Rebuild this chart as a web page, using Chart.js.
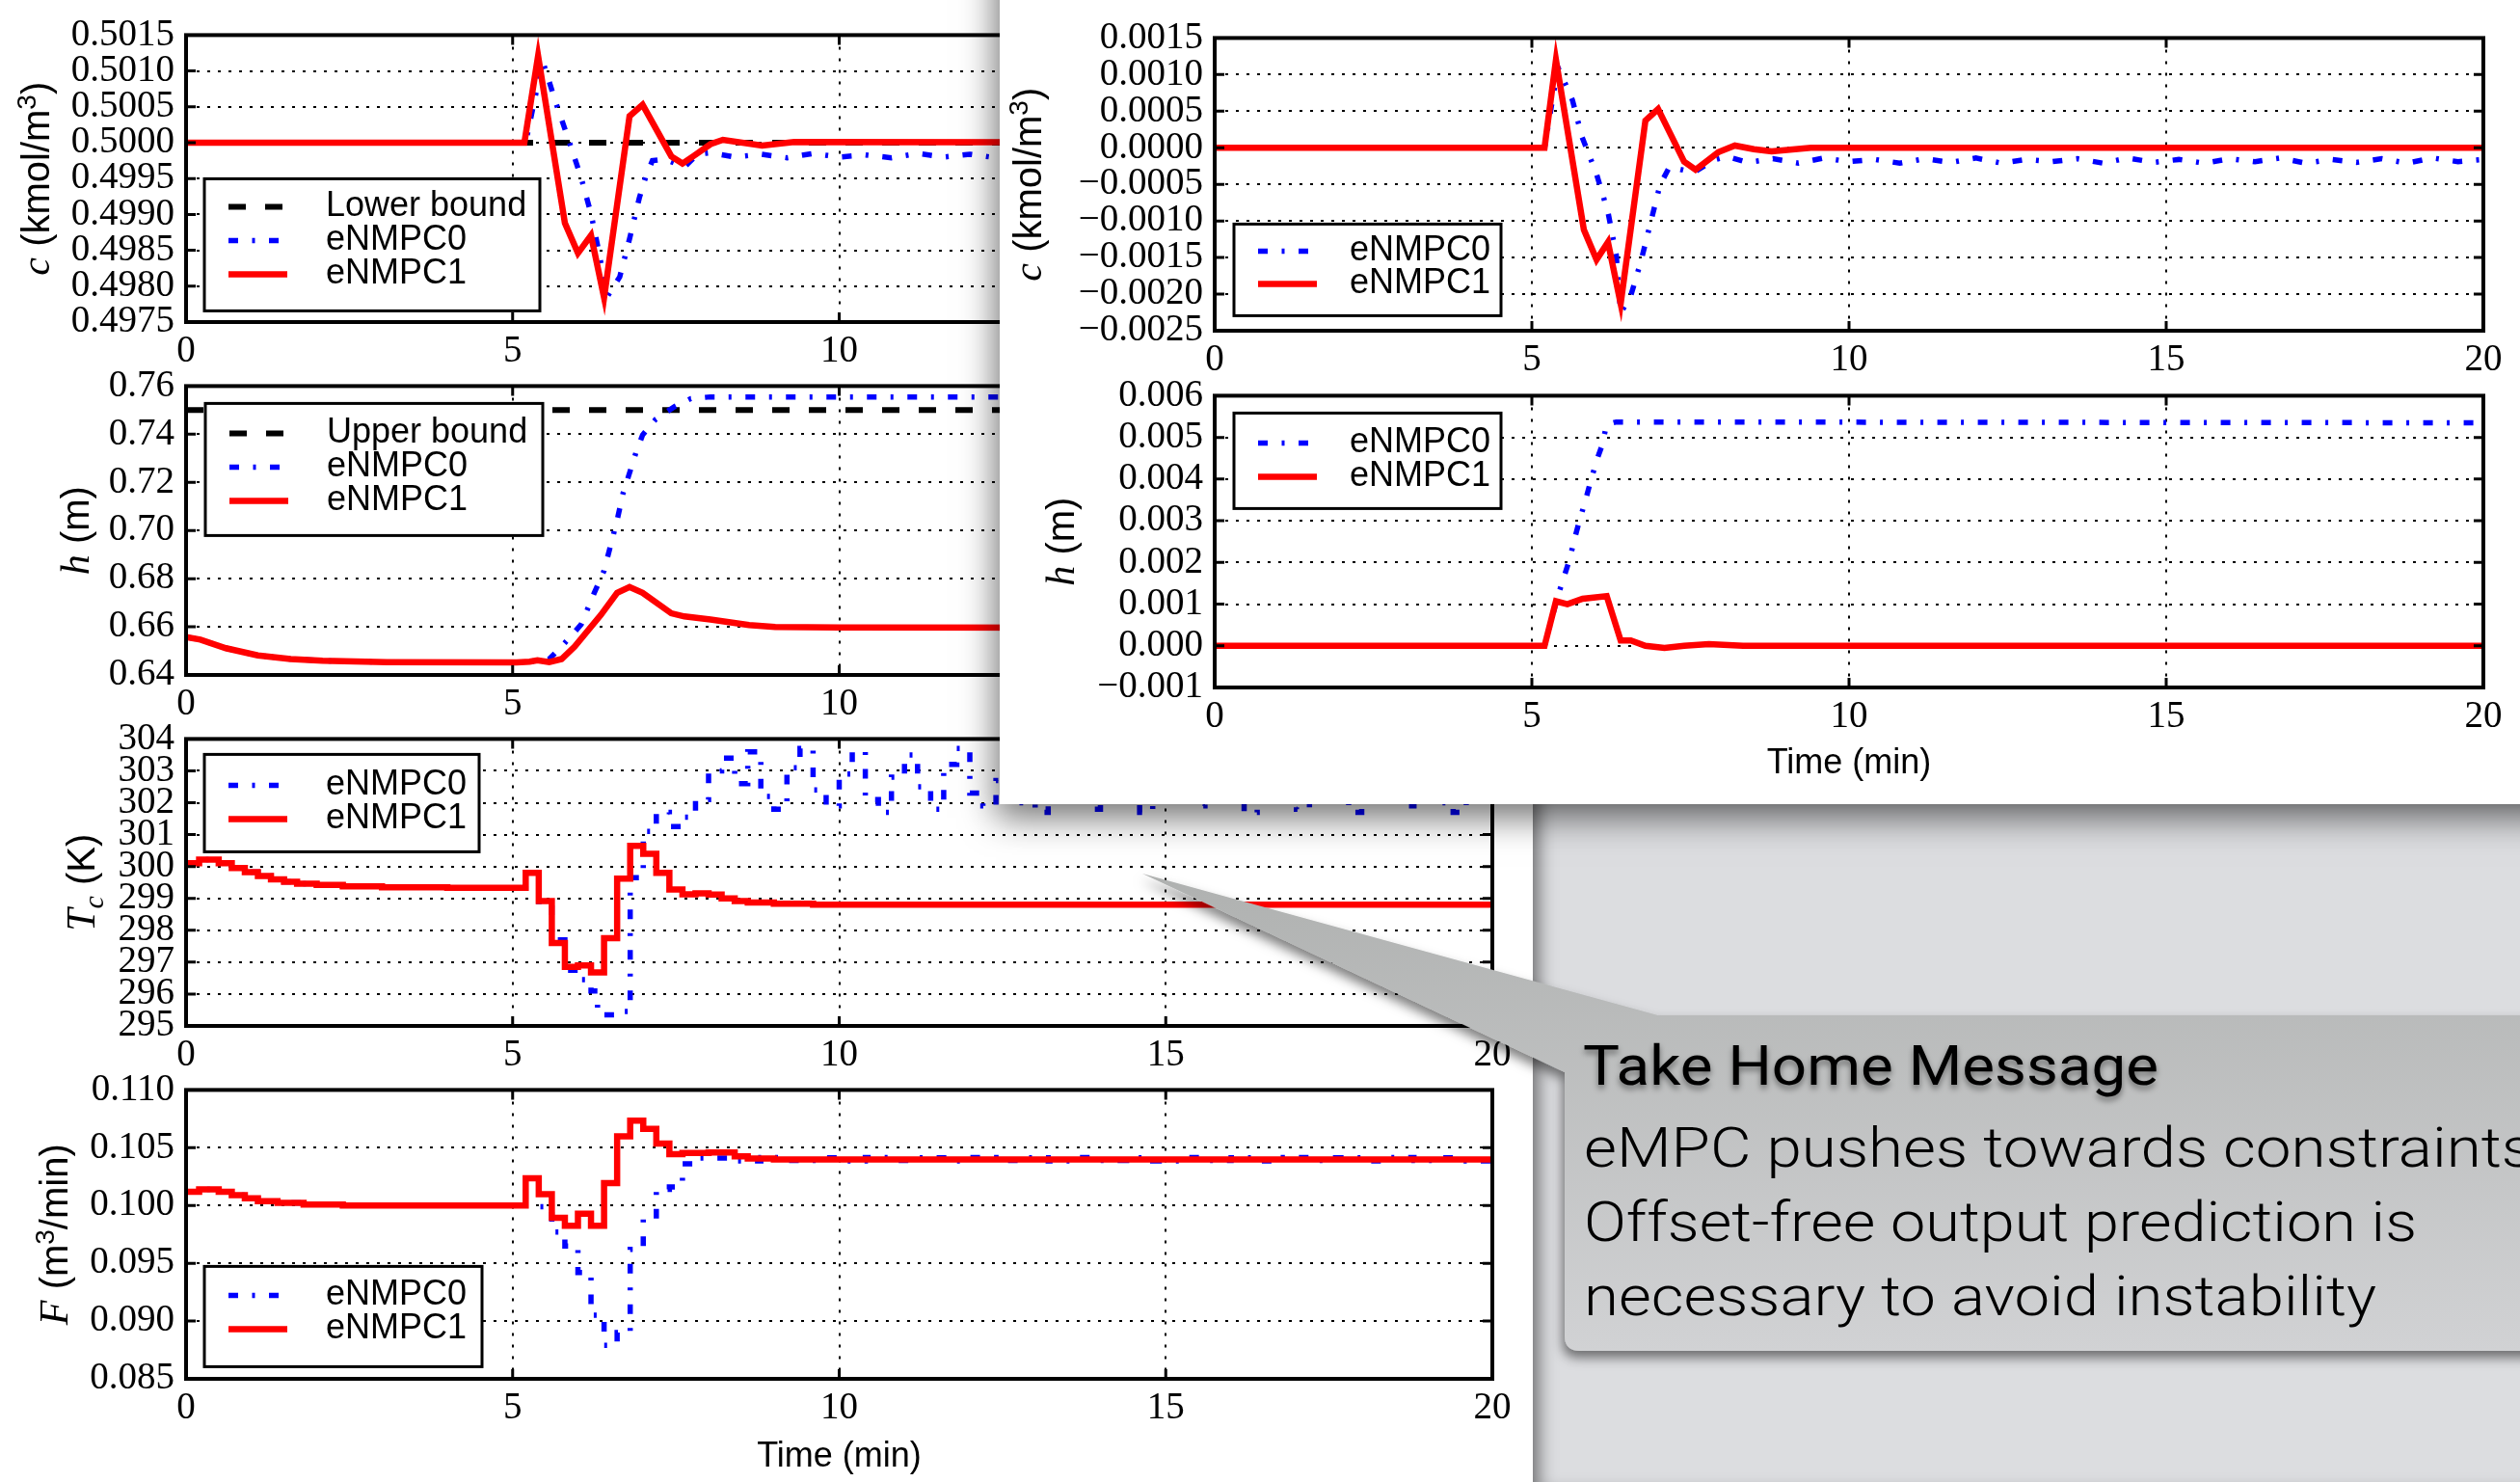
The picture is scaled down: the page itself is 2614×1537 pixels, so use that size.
<!DOCTYPE html>
<html>
<head>
<meta charset="utf-8">
<title>eNMPC comparison</title>
<script src="https://cdn.jsdelivr.net/npm/chart.js@4.4.0/dist/chart.umd.min.js"></script>
<style>
  html, body { margin: 0; padding: 0; background: #fff; overflow: hidden; }
  #page { position: relative; width: 2614px; height: 1537px; overflow: hidden; background: #fff; }
  .plot { position: absolute; }
  #grey { position: absolute; left: 1590px; top: 834px; width: 1024px; height: 703px; background: #dcdde0;
          box-shadow: inset 18px 0 18px -12px rgba(0,0,0,0.5); z-index: 2; }
  #inset { position: absolute; left: 1037px; top: -60px; width: 1640px; height: 894px; background: #fff;
           box-shadow: 0 10px 34px 4px rgba(0,0,0,0.55); z-index: 3; }
  #callout { position: absolute; left: 0; top: 0; z-index: 5; pointer-events: none; }
</style>
</head>
<body>
<div id="page">
  <div class="plot" style="left:0;top:1px;z-index:1"><canvas id="cLeft" width="1588" height="388"></canvas></div>
  <div class="plot" style="left:0;top:365px;z-index:1"><canvas id="hLeft" width="1588" height="390"></canvas></div>
  <div class="plot" style="left:0;top:731px;z-index:1"><canvas id="tcLeft" width="1588" height="388"></canvas></div>
  <div class="plot" style="left:0;top:1095px;z-index:1"><canvas id="fLeft" width="1588" height="442"></canvas></div>
  <div id="grey"></div>
  <div id="inset"></div>
  <div class="plot" style="left:1037px;top:4px;z-index:4"><canvas id="cRight" width="1569" height="394"></canvas></div>
  <div class="plot" style="left:1037px;top:375px;z-index:4"><canvas id="hRight" width="1569" height="445"></canvas></div>

  <svg id="callout" width="2614" height="1537">
    <defs>
      <linearGradient id="boxFill" x1="0" y1="905" x2="0" y2="1400" gradientUnits="userSpaceOnUse">
        <stop offset="0" stop-color="#afb1b0"/>
        <stop offset="1" stop-color="#d1d2d4"/>
      </linearGradient>
      <filter id="boxShadow" x="-10%" y="-20%" width="130%" height="150%">
        <feDropShadow dx="-2" dy="7" stdDeviation="6" flood-color="#000" flood-opacity="0.5"/>
      </filter>
      <filter id="textShadow" x="-5%" y="-30%" width="110%" height="180%">
        <feDropShadow dx="0" dy="4" stdDeviation="3" flood-color="#000" flood-opacity="0.45"/>
      </filter>
    </defs>
    <path d="M1185 906 L1720 1053 L2660 1053 L2660 1401 L1639 1401 Q1623 1401 1623 1385 L1623 1112 Z"
          fill="url(#boxFill)" filter="url(#boxShadow)"/>
    <g font-family="Roboto, 'Liberation Sans', sans-serif" fill="#000">
      <text x="1642" y="1125" font-size="57" textLength="597" lengthAdjust="spacingAndGlyphs" filter="url(#textShadow)">Take Home Message</text>
      <text x="1643" y="1210" font-size="58" font-weight="300" textLength="985" lengthAdjust="spacingAndGlyphs">eMPC pushes towards constraints</text>
      <text x="1643" y="1287" font-size="58" font-weight="300" textLength="864" lengthAdjust="spacingAndGlyphs">Offset-free output prediction is</text>
      <text x="1643" y="1364" font-size="58" font-weight="300" textLength="822" lengthAdjust="spacingAndGlyphs">necessary to avoid instability</text>
    </g>
  </svg>
</div>

<script>
// time axis (min)
const xTicks = [0, 5, 10, 15, 20];

// ---- left column: concentration c ----
const cLeftTicks = [0.4975, 0.4980, 0.4985, 0.4990, 0.4995, 0.5000, 0.5005, 0.5010, 0.5015];
const cBoundT = [0, 20];
const cBound = [0.5, 0.5];
const cLeftT0 = [0, 5.2, 5.46, 5.65, 5.85, 6.05, 6.2, 6.33, 6.44, 6.64, 6.79, 6.94, 7.04, 7.14, 7.33, 7.63, 7.83, 8.03,
  8.4, 8.8, 9.2, 9.6, 10.0, 10.4, 10.8, 11.2, 11.6, 12.0, 12.4, 12.8, 13.2, 13.6, 14.0,
  14.4, 14.8, 15.2, 15.6, 16.0, 16.4, 16.8, 17.2, 17.6, 18.0, 18.4, 18.8, 19.2, 19.6, 20.0];
const cLeft0 = [0.5000, 0.5000, 0.50114, 0.50059, 0.50006, 0.49951, 0.49901, 0.49844, 0.49784, 0.49813, 0.49866, 0.49923, 0.49953, 0.49975, 0.49977, 0.49966, 0.49984, 0.49986,
  0.49980, 0.49984, 0.49979, 0.49985, 0.49980, 0.49983, 0.49979, 0.49985, 0.49980, 0.49984, 0.49979, 0.49985, 0.49980, 0.49983, 0.49979,
  0.49985, 0.49980, 0.49984, 0.49979, 0.49985, 0.49980, 0.49983, 0.49979, 0.49985, 0.49980, 0.49984, 0.49979, 0.49985, 0.49980, 0.49983];
const cLeftT1 = [0, 5.18, 5.39, 5.8, 6.0, 6.2, 6.4, 6.79, 6.99, 7.43, 7.6, 7.78, 8.03, 8.22, 8.82, 9.31, 20];
const cLeft1 = [0.5, 0.5, 0.50121, 0.49888, 0.49846, 0.49871, 0.49784, 0.50037, 0.50053, 0.49981, 0.49971, 0.49982, 0.49998, 0.50004, 0.49996, 0.50001, 0.5];

// ---- left column: level h ----
const hLeftTicks = [0.64, 0.66, 0.68, 0.70, 0.72, 0.74, 0.76];
const hBoundT = [0, 20];
const hBound = [0.75, 0.75];
const hLeftT0 = [0, 0.22, 0.61, 1.1, 1.6, 2.09, 3.08, 5.06, 5.26, 5.38, 5.56, 5.75, 6.05, 6.25, 6.4, 6.5, 6.6, 6.69, 6.79, 6.89, 6.99, 7.19, 7.48, 7.73, 8.03, 20];
const hLeft0 = [0.6557, 0.6547, 0.6511, 0.6481, 0.6466, 0.6459, 0.6453, 0.6452, 0.6455, 0.6461, 0.6466, 0.6518, 0.6610, 0.6741, 0.6833, 0.6938, 0.7043, 0.7154, 0.7239, 0.7325, 0.7397, 0.7462, 0.7515, 0.7548, 0.7555, 0.7555];
const hLeftT1 = [0, 0.22, 0.61, 1.1, 1.6, 2.09, 3.08, 5.06, 5.26, 5.38, 5.56, 5.75, 5.95, 6.35, 6.6, 6.79, 6.99, 7.43, 7.63, 8.03, 8.62, 9.02, 10.0, 20];
const hLeft1 = [0.6557, 0.6547, 0.6511, 0.6481, 0.6466, 0.6459, 0.6453, 0.6452, 0.6455, 0.6461, 0.6453, 0.6466, 0.6518, 0.6649, 0.6741, 0.6765, 0.6741, 0.6656, 0.6643, 0.6630, 0.6607, 0.6599, 0.6597, 0.6595];

// ---- left column: coolant temperature Tc (held between samples) ----
const tcTicks = [295, 296, 297, 298, 299, 300, 301, 302, 303, 304];
const tcT0 = [0, 0.2, 0.5, 0.7, 0.9, 1.1, 1.3, 1.5, 1.7, 2.0,
  2.4, 3.0, 4.0, 5.2, 5.4, 5.6, 5.8, 6.0, 6.2, 6.3,
  6.4, 6.6, 6.8, 7.0, 7.2, 7.4, 7.6, 7.8, 8.0, 8.2,
  8.4, 8.6, 8.8, 9.0, 9.2, 9.4, 9.6, 9.8, 10.0, 10.2,
  10.4, 10.6, 10.8, 11.0, 11.2, 11.4, 11.6, 11.8, 12.0, 12.2,
  12.4, 12.6, 12.8, 13.0, 13.2, 13.4, 13.6, 13.8, 14.0, 14.2,
  14.4, 14.6, 14.8, 15.0, 15.2, 15.4, 15.6, 15.8, 16.0, 16.2,
  16.4, 16.6, 16.8, 17.0, 17.2, 17.4, 17.6, 17.8, 18.0, 18.2,
  18.4, 18.6, 18.8, 19.0, 19.2, 19.4, 19.6, 19.8, 20.0];
const tc0 = [300.10, 300.22, 300.10, 299.95, 299.82, 299.70, 299.60, 299.52, 299.46, 299.42,
  299.38, 299.35, 299.33, 299.80, 298.90, 297.70, 296.75, 296.45, 296.10, 295.55,
  295.35, 295.45, 299.65, 301.10, 301.70, 301.25, 301.55, 302.10, 303.00, 303.40,
  302.6, 303.6, 302.2, 301.8, 303.1, 303.7, 302.4, 301.9, 302.9, 303.6,
  302.1, 301.7, 302.8, 303.5, 302.5, 301.8, 303.2, 303.7, 302.3, 301.9,
  302.7, 303.6, 302.0, 301.7, 303.0, 303.5, 302.4, 301.8, 302.9, 303.7,
  302.2, 301.7, 302.6, 303.6, 302.5, 301.9, 303.1, 303.5, 302.1, 301.7,
  302.8, 303.7, 302.3, 301.8, 303.0, 303.6, 302.4, 301.7, 302.7, 303.5,
  302.2, 301.9, 303.2, 303.7, 302.0, 301.7, 302.9, 303.6, 302.3];
const tcT1 = [0, 0.2, 0.5, 0.7, 0.9, 1.1, 1.3, 1.5, 1.7, 2.0, 2.4, 3.0, 4.0, 5.2, 5.4, 5.6, 5.8,
  6.0, 6.2, 6.4, 6.6, 6.8, 7.0, 7.2, 7.4, 7.6, 7.8, 8.0, 8.2, 8.4, 8.6, 9.0, 9.6, 20];
const tc1 = [300.10, 300.22, 300.10, 299.95, 299.82, 299.70, 299.60, 299.52, 299.46, 299.42, 299.38, 299.35, 299.33, 299.80, 298.92, 297.60, 296.85,
  296.90, 296.68, 297.75, 299.62, 300.65, 300.40, 299.80, 299.28, 299.13, 299.16, 299.12, 299.00, 298.92, 298.87, 298.83, 298.80, 298.78];

// ---- left column: feed flow F (held between samples) ----
const fTicks = [0.085, 0.090, 0.095, 0.100, 0.105, 0.110];
const fT0 = [0, 0.2, 0.5, 0.7, 0.9, 1.1, 1.4, 1.8, 2.4, 5.2,
  5.4, 5.6, 5.8, 6.0, 6.2, 6.4, 6.6, 6.8, 7.0, 7.2,
  7.4, 7.6, 7.8, 8.0,
  8.4, 8.8, 9.2, 9.6, 10.0, 10.4, 10.8, 11.2, 11.6, 12.0, 12.4, 12.8, 13.2, 13.6, 14.0,
  14.4, 14.8, 15.2, 15.6, 16.0, 16.4, 16.8, 17.2, 17.6, 18.0, 18.4, 18.8, 19.2, 19.6, 20.0];
const f0 = [0.10118, 0.10140, 0.10118, 0.10090, 0.10063, 0.10038, 0.10022, 0.10008, 0.10000, 0.10235,
  0.09990, 0.09770, 0.09650, 0.09420, 0.09050, 0.08790, 0.08900, 0.09620, 0.09880, 0.10140,
  0.10160, 0.10360, 0.10410, 0.10410,
  0.10385, 0.10415, 0.10390, 0.10412, 0.10386, 0.10416, 0.10391, 0.10413, 0.10385, 0.10415, 0.10390, 0.10412, 0.10386, 0.10416, 0.10391,
  0.10413, 0.10385, 0.10415, 0.10390, 0.10412, 0.10386, 0.10416, 0.10391, 0.10413, 0.10385, 0.10415, 0.10390, 0.10412, 0.10386, 0.10400];
const fT1 = [0, 0.2, 0.5, 0.7, 0.9, 1.1, 1.4, 1.8, 2.4, 5.2, 5.4, 5.6, 5.8, 6.0, 6.2, 6.4, 6.6, 6.8, 7.0, 7.2, 7.4, 7.6, 8.0, 8.4, 8.6, 9.0, 20];
const f1 = [0.10118, 0.10140, 0.10118, 0.10090, 0.10063, 0.10038, 0.10022, 0.10008, 0.10000, 0.10235, 0.10098, 0.09893, 0.09825, 0.09929,
  0.09825, 0.10194, 0.10598, 0.10735, 0.10664, 0.10536, 0.10445, 0.10454, 0.10459, 0.10426, 0.10407, 0.10399, 0.10395];

// ---- inset: c offset ----
const cRightTicks = [-0.0025, -0.0020, -0.0015, -0.0010, -0.0005, 0.0000, 0.0005, 0.0010, 0.0015];
const cRightT0 = [0, 5.2, 5.41, 5.49, 5.64, 5.79, 6.02, 6.2, 6.33, 6.4, 6.56, 6.72, 6.87, 7.02, 7.17, 7.55, 7.86, 8.08,
  8.4, 8.8, 9.2, 9.6, 10.0, 10.4, 10.8, 11.2, 11.6, 12.0, 12.4, 12.8, 13.2, 13.6, 14.0,
  14.4, 14.8, 15.2, 15.6, 16.0, 16.4, 16.8, 17.2, 17.6, 18.0, 18.4, 18.8, 19.2, 19.6, 20.0];
const cRight0 = [0, 0, 0.00110, 0.00095, 0.00065, 0.00015, -0.00036, -0.00088, -0.00146, -0.00226, -0.00202, -0.00155, -0.00103, -0.00051, -0.00026, -0.00034, -0.00017, -0.00012,
  -0.00020, -0.00015, -0.00021, -0.00014, -0.00019, -0.00016, -0.00021, -0.00015, -0.00020, -0.00014, -0.00021, -0.00016, -0.00019, -0.00015, -0.00021,
  -0.00014, -0.00020, -0.00016, -0.00021, -0.00015, -0.00019, -0.00014, -0.00021, -0.00016, -0.00020, -0.00015, -0.00021, -0.00014, -0.00019, -0.00016];
const cRightT1 = [0, 5.2, 5.38, 5.82, 6.02, 6.2, 6.4, 6.79, 6.99, 7.4, 7.58, 7.94, 8.2, 8.5, 8.78, 9.4, 20];
const cRight1 = [0, 0, 0.00120, -0.00112, -0.00153, -0.00129, -0.00213, 0.00037, 0.00053, -0.00019, -0.00030, -0.00006, 0.00003, -0.00002, -0.00005, 0, 0];

// ---- inset: h offset ----
const hRightTicks = [-0.001, 0.000, 0.001, 0.002, 0.003, 0.004, 0.005, 0.006];
const hRightT0 = [0, 5.2, 5.41, 5.49, 5.6, 5.67, 5.75, 5.84, 5.92, 6.02, 6.1, 6.18, 6.33, 20];
const hRight0 = [0, 0, 0.00120, 0.00157, 0.00210, 0.00255, 0.00300, 0.00346, 0.00391, 0.00444, 0.00478, 0.00531, 0.00537, 0.00535];
const hRightT1 = [0, 5.2, 5.38, 5.56, 5.8, 6.18, 6.4, 6.56, 6.79, 7.09, 7.4, 7.79, 8.33, 20];
const hRight1 = [0, 0, 0.00107, 0.00100, 0.00113, 0.00119, 0.00013, 0.00013, 0, -0.00005, 0, 0.00004, 0, 0];


function pts(ts, ys) {
    return ts.map((t, i) => ({ x: t, y: ys[i] }));
}

function boundSet(label, ts, ys) {
    return { label: label, data: pts(ts, ys), borderColor: '#000', borderWidth: 6, borderDash: [18, 20], order: 2 };
}

function mpc0Set(ts, ys, stepped) {
    return { label: 'eNMPC0', data: pts(ts, ys), borderColor: '#0000ff', borderWidth: 5.5,
             borderDash: [10, 14.5, 3, 14.5], stepped: stepped ? 'before' : false, order: 1 };
}

function mpc1Set(ts, ys, stepped) {
    return { label: 'eNMPC1', data: pts(ts, ys), borderColor: '#ff0000', borderWidth: 6.5,
             stepped: stepped ? 'before' : false, order: 0 };
}

// frame, inward ticks, boxed legend and mixed-font y label, per canvas
const SERIF_I = 'italic 42px "Liberation Serif"';
const SANS = '40px "Liberation Sans"';
const SUP = '28px "Liberation Sans"';
const decorCfg = {
    cLeft:  { title: { x: 37, parts: [['c', SERIF_I], [' (kmol/m', SANS], ['3', SUP, -14], [')', SANS]] },
              legend: { x: 19, y: 149, w: 348, h: 137, first: 29, step: 35, sx: 25, tx: 126 } },
    hLeft:  { title: { x: 78, parts: [['h', SERIF_I], [' (m)', SANS]] },
              legend: { x: 20, y: 18, w: 350, h: 137, first: 31, step: 35, sx: 25, tx: 126 } },
    tcLeft: { title: { x: 84, parts: [['T', SERIF_I], ['c', 'italic 30px "Liberation Serif"', 9], [' (K)', SANS]] },
              legend: { x: 19, y: 16, w: 285, h: 101, first: 32, step: 35, sx: 25, tx: 126 } },
    fLeft:  { title: { x: 56, parts: [['F', SERIF_I], [' (m', SANS], ['3', SUP, -14], ['/min)', SANS]] },
              legend: { x: 19, y: 183, w: 288, h: 104, first: 30, step: 35, sx: 25, tx: 126 } },
    cRight: { title: { x: 29, parts: [['c', SERIF_I], [' (kmol/m', SANS], ['3', SUP, -14], [')', SANS]] },
              legend: { x: 20, y: 193, w: 277, h: 95, first: 28, step: 34, sx: 25, tx: 120 } },
    hRight: { title: { x: 63, parts: [['h', SERIF_I], [' (m)', SANS]] },
              legend: { x: 20, y: 18, w: 277, h: 99, first: 31, step: 35, sx: 25, tx: 120 } }
};

const decorPlugin = {
    id: 'decor',
    afterDatasetsDraw(chart) {
        const cfg = decorCfg[chart.canvas.id];
        const ctx = chart.ctx;
        const a = chart.chartArea;
        const sx = chart.scales.x, sy = chart.scales.y;
        ctx.save();
        ctx.strokeStyle = '#000';
        ctx.lineWidth = 3;
        ctx.beginPath();
        sy.ticks.forEach(t => {
            const py = sy.getPixelForValue(t.value);
            ctx.moveTo(a.left, py); ctx.lineTo(a.left + 10, py);
            ctx.moveTo(a.right, py); ctx.lineTo(a.right - 10, py);
        });
        sx.ticks.forEach(t => {
            const px = sx.getPixelForValue(t.value);
            ctx.moveTo(px, a.bottom); ctx.lineTo(px, a.bottom - 10);
            ctx.moveTo(px, a.top); ctx.lineTo(px, a.top + 10);
        });
        ctx.stroke();
        ctx.lineWidth = 4;
        ctx.strokeRect(a.left, a.top, a.right - a.left, a.bottom - a.top);

        const L = cfg.legend;
        const bx = a.left + L.x, by = a.top + L.y;
        ctx.fillStyle = '#fff';
        ctx.fillRect(bx, by, L.w, L.h);
        ctx.lineWidth = 3;
        ctx.strokeRect(bx, by, L.w, L.h);
        chart.data.datasets.forEach((ds, i) => {
            const y = by + L.first + i * L.step;
            ctx.setLineDash(ds.borderDash || []);
            ctx.lineWidth = ds.borderWidth;
            ctx.strokeStyle = ds.borderColor;
            ctx.beginPath();
            ctx.moveTo(bx + L.sx, y);
            ctx.lineTo(bx + L.sx + 61, y);
            ctx.stroke();
            ctx.setLineDash([]);
            ctx.fillStyle = '#000';
            ctx.font = '36px "Liberation Sans"';
            ctx.textBaseline = 'middle';
            ctx.textAlign = 'left';
            ctx.fillText(ds.label, bx + L.tx, y);
        });
        ctx.restore();
    },
    afterDraw(chart) {
        const T = decorCfg[chart.canvas.id].title;
        const ctx = chart.ctx;
        const a = chart.chartArea;
        ctx.save();
        ctx.translate(T.x, (a.top + a.bottom) / 2);
        ctx.rotate(-Math.PI / 2);
        ctx.fillStyle = '#000';
        ctx.textBaseline = 'alphabetic';
        ctx.textAlign = 'left';
        const widths = T.parts.map(p => { ctx.font = p[1]; return ctx.measureText(p[0]).width; });
        let x = -widths.reduce((s, w) => s + w, 0) / 2;
        T.parts.forEach((p, i) => {
            ctx.font = p[1];
            ctx.fillText(p[0], x, 14 + (p[2] || 0));
            x += widths[i];
        });
        ctx.restore();
    }
};

function fmt(v, dec) {
    return v.toFixed(dec).replace('-', '\u2212');
}

function makeChart(id, datasets, yTicks, dec, yWidth, xHeight, padRight, withTime, titlePad) {
    const tickFont = { family: 'Liberation Serif', size: 39 };
    return new Chart(document.getElementById(id), {
        type: 'line',
        data: { datasets: datasets },
        plugins: [decorPlugin],
        options: {
            responsive: false,
            animation: false,
            layout: { padding: { top: 30, right: padRight, left: 0, bottom: 0 } },
            elements: { point: { radius: 0 }, line: { tension: 0, borderCapStyle: 'butt' } },
            plugins: { legend: { display: false }, tooltip: { enabled: false } },
            scales: {
                x: {
                    type: 'linear', min: 0, max: 20,
                    afterBuildTicks: s => { s.ticks = xTicks.map(v => ({ value: v })); },
                    afterFit: s => { s.height = xHeight; },
                    ticks: { font: tickFont, color: '#000', padding: 7, autoSkip: false, maxRotation: 0,
                             callback: v => String(v) },
                    grid: { color: '#000', lineWidth: 2, drawTicks: false },
                    border: { display: false, dash: [3, 9] },
                    title: { display: withTime, text: 'Time (min)', color: '#000',
                             font: { family: 'Liberation Sans', size: 36 }, padding: { top: 0, bottom: titlePad || 0 } }
                },
                y: {
                    type: 'linear', min: yTicks[0], max: yTicks[yTicks.length - 1],
                    afterBuildTicks: s => { s.ticks = yTicks.map(v => ({ value: v })); },
                    afterFit: s => { s.width = yWidth; },
                    ticks: { font: tickFont, color: '#000', padding: 12, autoSkip: false,
                             callback: v => fmt(v, dec) },
                    grid: { color: '#000', lineWidth: 2, drawTicks: false },
                    border: { display: false, dash: [3, 8] }
                }
            }
        }
    });
}

makeChart('cLeft', [boundSet('Lower bound', cBoundT, cBound), mpc0Set(cLeftT0, cLeft0), mpc1Set(cLeftT1, cLeft1)],
          cLeftTicks, 4, 193, 55, 40, false);
makeChart('hLeft', [boundSet('Upper bound', hBoundT, hBound), mpc0Set(hLeftT0, hLeft0), mpc1Set(hLeftT1, hLeft1)],
          hLeftTicks, 2, 193, 55, 40, false);
makeChart('tcLeft', [mpc0Set(tcT0, tc0, true), mpc1Set(tcT1, tc1, true)],
          tcTicks, 0, 193, 55, 40, false);
makeChart('fLeft', [mpc0Set(fT0, f0, true), mpc1Set(fT1, f1, true)],
          fTicks, 3, 193, 107, 40, true, 4);
makeChart('cRight', [mpc0Set(cRightT0, cRight0), mpc1Set(cRightT1, cRight1)],
          cRightTicks, 4, 223, 55, 30, false);
makeChart('hRight', [mpc0Set(hRightT0, hRight0), mpc1Set(hRightT1, hRight1)],
          hRightTicks, 3, 223, 107, 30, true, 6);
</script>
</body>
</html>
